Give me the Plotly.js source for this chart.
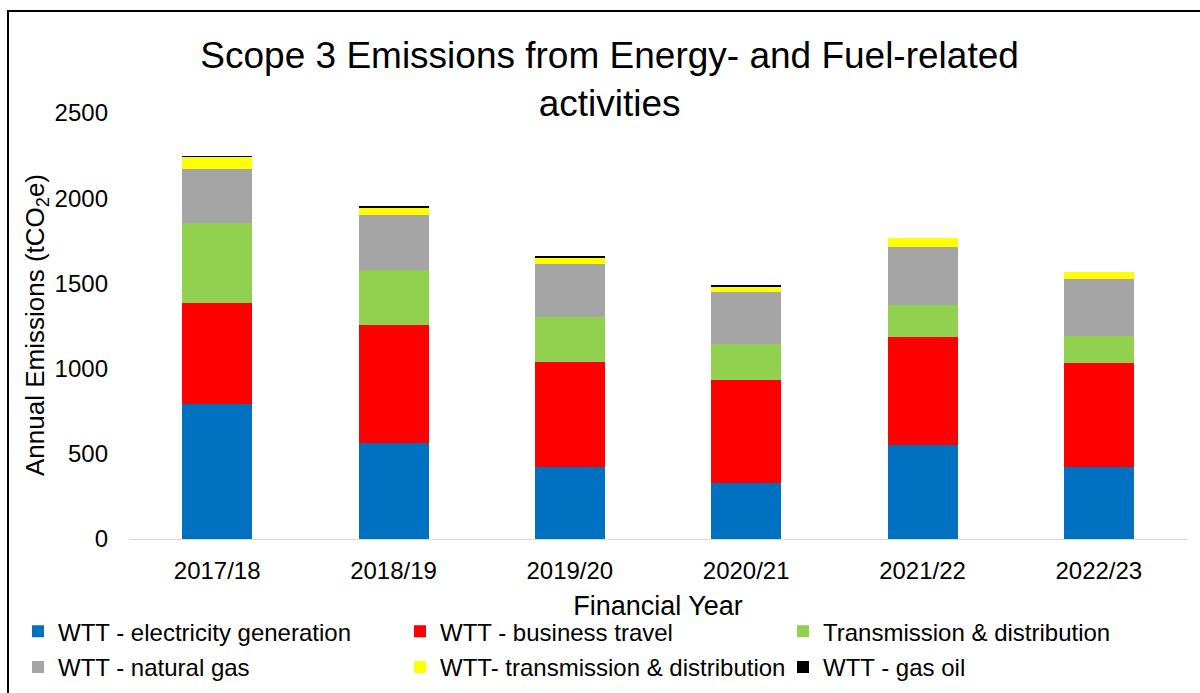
<!DOCTYPE html>
<html>
<head>
<meta charset="utf-8">
<script src="https://cdn.plot.ly/plotly-3.0.1.min.js"></script>
<style>html,body{margin:0;padding:0;background:#fff;}#chart{width:1200px;height:693px;}</style>
</head>
<body>
<div id="chart"></div>
<script>
const years = ["2017/18", "2018/19", "2019/20", "2020/21", "2021/22", "2022/23"];
const wttElectricity = [792, 562, 424, 330, 552, 421];
const wttBusinessTravel = [595, 694, 615, 603, 635, 612];
const transmissionDistribution = [466, 323, 262, 210, 186, 160];
const wttNaturalGas = [317, 321, 313, 308, 342, 335];
const wttTransmissionDistribution = [72, 45, 38, 31, 53, 41];
const wttGasOil = [5, 4, 4, 3, 0, 0];

const seriesNames = ["WTT - electricity generation", "WTT - business travel", "Transmission & distribution",
  "WTT - natural gas", "WTT- transmission & distribution", "WTT - gas oil"];
const seriesValues = [wttElectricity, wttBusinessTravel, transmissionDistribution, wttNaturalGas, wttTransmissionDistribution, wttGasOil];
const seriesColors = ["#0070C0", "#FF0000", "#92D050", "#A5A5A5", "#FFFF00", "#000000"];
// legend column for each series (3 columns x 2 rows, row-major like the reference)
const legendIds = ["legend", "legend2", "legend3", "legend", "legend2", "legend3"];

const traces = seriesNames.map((n, i) => ({
  type: "bar", name: n, x: years, y: seriesValues[i],
  marker: {color: seriesColors[i], line: {width: 0}},
  legend: legendIds[i], legendgroup: "g" + i,
  hoverinfo: "x+y+name"
}));

const font = "Arial, 'Liberation Sans', sans-serif";
function legendAt(px) {
  return {orientation: "v", traceorder: "grouped", tracegroupgap: 1.5,
    xref: "container", yref: "container",
    x: px / 1200, xanchor: "left", y: 0.121, yanchor: "top",
    font: {family: font, size: 24, color: "#000"}, bgcolor: "rgba(0,0,0,0)", itemclick: false};
}

const layout = {
  width: 1200, height: 693,
  margin: {l: 129, r: 13, t: 113, b: 154, autoexpand: false},
  paper_bgcolor: "#ffffff", plot_bgcolor: "#ffffff",
  font: {family: font, color: "#000000", size: 24},
  barmode: "stack", bargap: 0.603,
  title: {text: "Scope 3 Emissions from Energy- and Fuel-related<br>activities",
    font: {family: font, size: 37, color: "#000000"},
    x: 0.508, xanchor: "center", xref: "container", y: 0.902, yanchor: "top", yref: "container"},
  xaxis: {type: "category", showline: true, linecolor: "#d9d9d9", linewidth: 1,
    showgrid: false, zeroline: false, ticks: "", ticklabelstandoff: 10,
    tickfont: {family: font, size: 24, color: "#000"},
    title: {text: "Financial Year", font: {family: font, size: 27, color: "#000"}, standoff: 13},
    automargin: false},
  yaxis: {range: [0, 2500], dtick: 500, showline: false, showgrid: false, zeroline: false,
    ticks: "", ticklabelstandoff: 20, tickfont: {family: font, size: 24, color: "#000"},
    automargin: false},
  annotations: [{text: "Annual Emissions (tCO<sub>2</sub>e)", textangle: -90,
    xref: "paper", yref: "paper", x: (36 - 129) / 1058, y: (539 - 325) / 426,
    xanchor: "center", yanchor: "middle", showarrow: false,
    font: {family: font, size: 26, color: "#000"}}],
  legend: legendAt(18),
  legend2: legendAt(400),
  legend3: legendAt(783),
  shapes: [{type: "rect", xref: "paper", yref: "paper",
    x0: (8 - 129) / 1058, x1: (1210 - 129) / 1058, y0: (539 - 11) / 426, y1: (539 - 710) / 426,
    line: {color: "#000000", width: 2}, fillcolor: "rgba(0,0,0,0)", layer: "above"}],
  showlegend: true
};

Plotly.newPlot("chart", traces, layout, {displayModeBar: false});
</script>
</body>
</html>
